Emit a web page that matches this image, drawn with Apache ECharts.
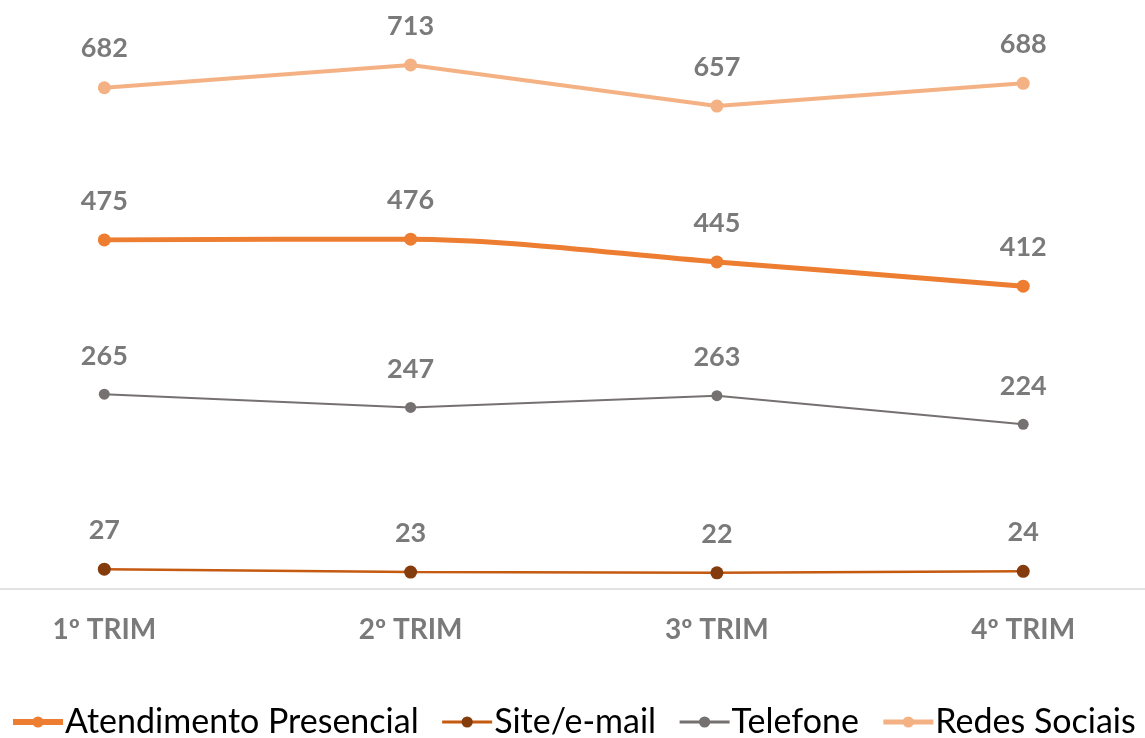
<!DOCTYPE html>
<html>
<head>
<meta charset="utf-8">
<script src="https://cdn.jsdelivr.net/npm/echarts@6/dist/echarts.min.js"></script>
<style>html,body{margin:0;padding:0;background:#fff}#c{width:1145px;height:738px}</style>
</head>
<body>
<div id="c"></div>
<script>
const categories = ['1º TRIM', '2º TRIM', '3º TRIM', '4º TRIM'];
const atendimento = [475, 476, 445, 412];
const siteEmail = [27, 23, 22, 24];
const telefone = [265, 247, 263, 224];
const redesSociais = [682, 713, 657, 688];
const seriesNames = ['Atendimento Presencial', 'Site/e-mail', 'Telefone', 'Redes Sociais'];

const chart = echarts.init(document.getElementById('c'));
const labelStyle = {
  show: true, position: 'top', distance: 19,
  fontFamily: 'Lato', fontWeight: 'bold', fontSize: 27, color: '#7a7a7a',
  formatter: p => p.value[1]
};
function mk(name, values, lineColor, markColor, width, size, smooth, z) {
  return {
    name, type: 'line', data: values.map((v, i) => [i, v]), smooth, z,
    symbol: 'circle', symbolSize: size,
    lineStyle: { color: lineColor, width },
    itemStyle: { color: markColor },
    label: labelStyle,
    emphasis: { disabled: true }
  };
}
chart.setOption({
  animation: false,
  grid: { left: 0, right: 0, top: 1, bottom: 149, containLabel: false },
  xAxis: {
    type: 'value', min: -0.3405, max: 3.3976,
    splitLine: { show: false },
    axisLine: { show: true, onZero: false, lineStyle: { color: '#d9d9d9', width: 1.5 } },
    axisTick: { show: false },
    axisLabel: {
      customValues: [0, 1, 2, 3],
      formatter: v => categories[Math.round(v)],
      margin: 27, fontFamily: 'Lato', fontWeight: 'bold', fontSize: 28, color: '#7a7a7a'
    }
  },
  yAxis: {
    type: 'value', min: 0, max: 800, show: false,
    splitLine: { show: false }
  },
  legend: {
    top: 705, left: 10, width: 1135, padding: 0, itemWidth: 50, itemHeight: 14, itemGap: 22,
    textStyle: { fontFamily: 'Lato', fontSize: 34, color: '#000', padding: [0, 0, 0, -3] },
    data: [
      { name: seriesNames[0], lineStyle: { width: 6 } },
      { name: seriesNames[1], lineStyle: { width: 3 } },
      { name: seriesNames[2], lineStyle: { width: 3 } },
      { name: seriesNames[3], lineStyle: { width: 5 } }
    ]
  },
  series: [
    mk(seriesNames[0], atendimento, '#ED7D31', '#ED7D31', 5, 13, 0.3, 4),
    mk(seriesNames[1], siteEmail, '#C55A11', '#843C0C', 2.5, 13, false, 3),
    mk(seriesNames[2], telefone, '#767171', '#767171', 2, 11, false, 2),
    mk(seriesNames[3], redesSociais, '#F4B183', '#F4B183', 4, 13, false, 1)
  ]
});
</script>
</body>
</html>
